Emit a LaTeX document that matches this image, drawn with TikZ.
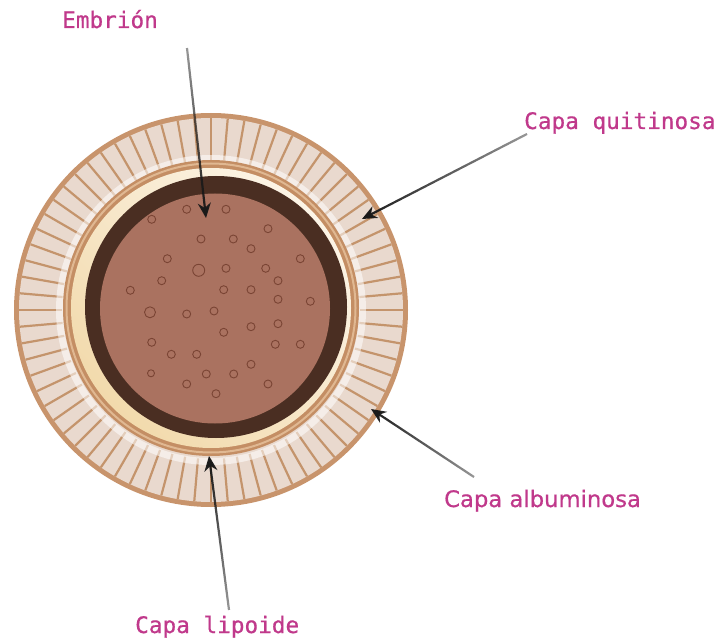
\documentclass[tikz,border=0pt]{standalone}
\usepackage{fontspec}
\newfontfamily\monolabel[FakeBold=0.6]{DejaVu Sans Mono}
\newfontfamily\sanslabel[FakeBold=0.6]{DejaVu Sans}
\usetikzlibrary{arrows.meta,fadings}

% colours of the egg layers
\definecolor{shellrim}{RGB}{200,148,108}
\definecolor{shellfill}{RGB}{233,217,206}
\definecolor{shellstripe}{RGB}{196,148,108}
\definecolor{lipidtan}{RGB}{196,142,100}
\definecolor{lipidlight}{RGB}{224,184,146}
\definecolor{creamdark}{RGB}{242,218,172}
\definecolor{creamlight}{RGB}{252,244,230}
\definecolor{embryoring}{RGB}{74,46,34}
\definecolor{embryofill}{RGB}{170,114,96}
\definecolor{granulecol}{RGB}{122,68,52}
\definecolor{labelpink}{RGB}{192,57,139}

% pointer lines fade out towards their tails
\tikzfading[name=fade up, top color=transparent!55, bottom color=transparent!0]
\tikzfading[name=fade down, top color=transparent!0, bottom color=transparent!55]
\tikzfading[name=fade right, left color=transparent!0, right color=transparent!55]

\begin{document}
\begin{tikzpicture}[x=1pt, y=-1pt,
    tag/.style={text=labelpink, inner sep=0pt, anchor=base west,
      font=\monolabel\fontsize{22.7}{27}\selectfont},
    pointer/.style={line width=2.2pt, draw=black!90, -{Stealth[length=15pt,width=13pt]}},
    vesicle/.style={draw=granulecol, line width=0.9pt}]
    \useasboundingbox (0,0) rectangle (720,639);

    % Outer chitin shell with radial stripes
    \begin{scope}[shift={(211,310)}]
        \fill[shellrim] (0,0) circle (197);
        \fill[shellfill] (0,0) circle (192);
        \foreach \a in {0,5,...,355}
            \draw[shellstripe, line width=2.2pt] (\a:149) -- (\a:192);
        \fill[white, opacity=0.55, even odd rule] (0,0) circle (155) (0,0) circle (148);
    \end{scope}

    % Lipid layer and cream filling
    \fill[lipidtan] (211,308) circle (148);
    \draw[lipidlight, line width=2pt] (211,308) circle (144.5);
    \shade[top color=creamlight, bottom color=creamdark, shading angle=-45] (211,308) circle (140);

    % Embryo
    \fill[embryoring] (216,307) circle (131);
    \fill[embryofill] (215,308.5) circle (115);

    % Granules inside the embryo
    \foreach \x/\y in {186.7/209.3, 226/209.3, 151.7/219.3, 268/228.7, 201/239,
        233.3/239, 251/248.7, 167.3/258.7, 300.3/258.7, 226/268.3, 265.7/268.3,
        161.7/280.7, 278/280.7, 130.3/290.3, 223.7/289.7, 251/289.7, 278/299.3,
        310.3/301.3, 186.7/314, 214/311, 251/326.7, 278/323.7, 223.7/332.3,
        151.7/342.3, 275.3/344.3, 300.3/344.3, 171.3/354.3, 196.7/354.3,
        251/364.3, 206.3/374, 233.7/374, 186.7/384, 268/384, 216/393.7}
        \draw[vesicle] (\x,\y) circle (4);
    \draw[vesicle] (198.7,270.3) circle (6);
    \draw[vesicle] (150,312.3) circle (5.5);
    \draw[vesicle] (151,373.3) circle (3.5);

    % Labels
    \node[tag] (embrion) at (62,28) {Embrión};
    \node[tag] (quitinosa) at (524,129) {Capa quitinosa};
    \node[tag, font=\sanslabel\fontsize{22.7}{27}\selectfont] (albuminosa) at (444,507) {Capa albuminosa};
    \node[tag] (lipoide) at (135,633) {Capa lipoide};

    % Pointer ends
    \coordinate (embrion tail) at (187,48);
    \coordinate (embrion tip) at (206,218);
    \coordinate (quitinosa tail) at (527,134);
    \coordinate (quitinosa tip) at (362,219);
    \coordinate (albuminosa tail) at (474,477);
    \coordinate (albuminosa tip) at (371,409);
    \coordinate (lipoide tail) at (229,610);
    \coordinate (lipoide tip) at (209,456);

    % Pointers
    \draw[pointer, path fading=fade up] (embrion tail) -- (embrion tip);
    \draw[pointer, path fading=fade right] (quitinosa tail) -- (quitinosa tip);
    \draw[pointer, path fading=fade right] (albuminosa tail) -- (albuminosa tip);
    \draw[pointer, path fading=fade down] (lipoide tail) -- (lipoide tip);
\end{tikzpicture}
\end{document}
